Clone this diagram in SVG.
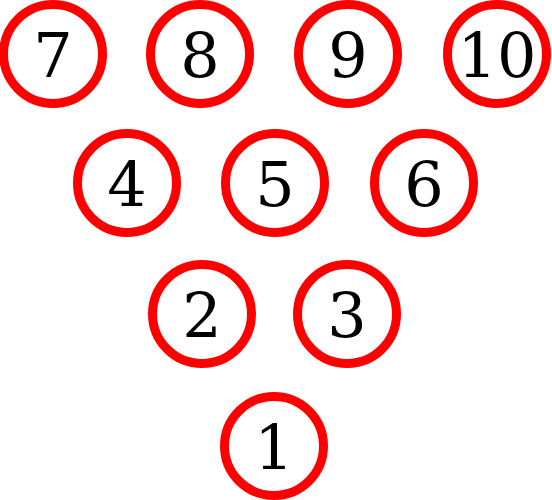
<svg xmlns="http://www.w3.org/2000/svg" width="552" height="500" viewBox="0 0 552 500">
<style>
.pin circle{fill:none;stroke:#ff0000;stroke-width:9}
.pin text{font-family:"DejaVu Serif",serif;font-size:62px;fill:#000;text-anchor:middle}
</style>
<rect width="552" height="500" fill="#fff"/>
<g id="pin7" class="pin"><circle cx="53" cy="54" r="49.5"/><text x="53" y="77">7</text></g>
<g id="pin8" class="pin"><circle cx="200" cy="54" r="49.5"/><text x="200" y="77">8</text></g>
<g id="pin9" class="pin"><circle cx="348" cy="54" r="49.5"/><text x="348" y="77">9</text></g>
<g id="pin10" class="pin"><circle cx="497" cy="54" r="49.5"/><text x="497" y="77">10</text></g>
<g id="pin4" class="pin"><circle cx="127" cy="183" r="49.5"/><text x="127" y="206">4</text></g>
<g id="pin5" class="pin"><circle cx="275" cy="183" r="49.5"/><text x="275" y="206">5</text></g>
<g id="pin6" class="pin"><circle cx="424" cy="183" r="49.5"/><text x="424" y="206">6</text></g>
<g id="pin2" class="pin"><circle cx="202" cy="314" r="49.5"/><text x="202" y="337">2</text></g>
<g id="pin3" class="pin"><circle cx="347" cy="314" r="49.5"/><text x="347" y="337">3</text></g>
<g id="pin1" class="pin"><circle cx="274" cy="446" r="49.5"/><text x="274" y="469">1</text></g>
<g id="connectors"></g>
</svg>
